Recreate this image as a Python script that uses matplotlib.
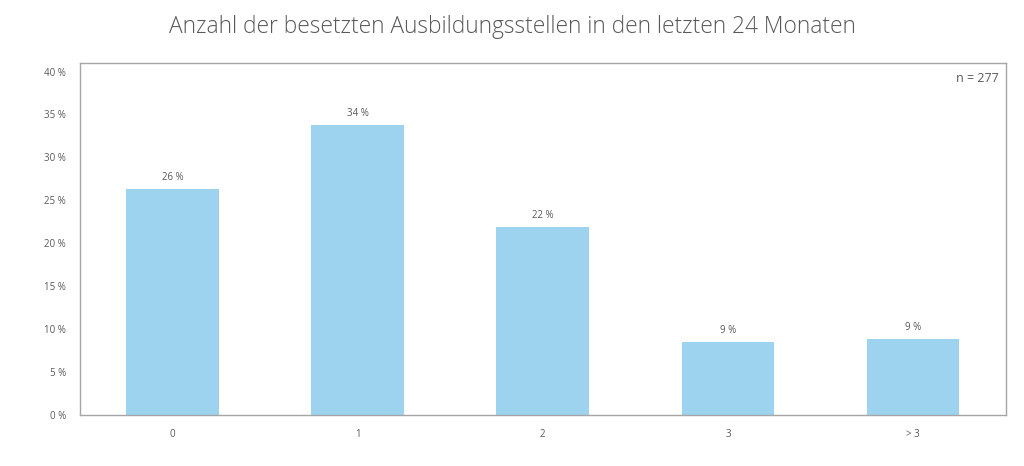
import matplotlib
matplotlib.use("Agg")
import matplotlib.pyplot as plt

categories = ["0", "1", "2", "3", "> 3"]
values = [26.3, 33.8, 21.9, 8.5, 8.9]
labels = ["26 %", "34 %", "22 %", "9 %", "9 %"]
yticks = [0, 5, 10, 15, 20, 25, 30, 35, 40]

plt.rcParams['font.family'] = ['Open Sans', 'DejaVu Sans']

fig = plt.figure(figsize=(10.24, 4.66), dpi=100)
ax = fig.add_axes([0.078, 0.109, 0.904, 0.756])
x = range(len(categories))
bars = ax.bar(x, values, width=0.5, color="#9DD3EE")
for xi, v, lab in zip(x, values, labels):
    ax.text(xi, v + 0.7, lab, ha="center", va="bottom", fontsize=7, color="#595959")

ax.set_xlim(-0.5, 4.5)
ax.set_ylim(0, 41)
ax.set_yticks(yticks)
ax.set_yticklabels([f"{t} %" for t in yticks])
ax.set_xticks(list(x))
ax.set_xticklabels(categories)
ax.tick_params(axis="y", length=0, labelsize=7, labelcolor="#595959", pad=10)
ax.tick_params(axis="x", length=0, labelsize=7, labelcolor="#595959", pad=10)
for s in ax.spines.values():
    s.set_color("#A6A6A6")
    s.set_linewidth(1)
ax.text(0.993, 0.975, "n = 277", transform=ax.transAxes, ha="right", va="top",
        fontsize=9, color="#595959")
fig.text(0.5, 0.942, "Anzahl der besetzten Ausbildungsstellen in den letzten 24 Monaten",
         ha="center", va="center", fontsize=16.4, color="#595959", fontweight="light")
fig.savefig("out.png", dpi=100)
